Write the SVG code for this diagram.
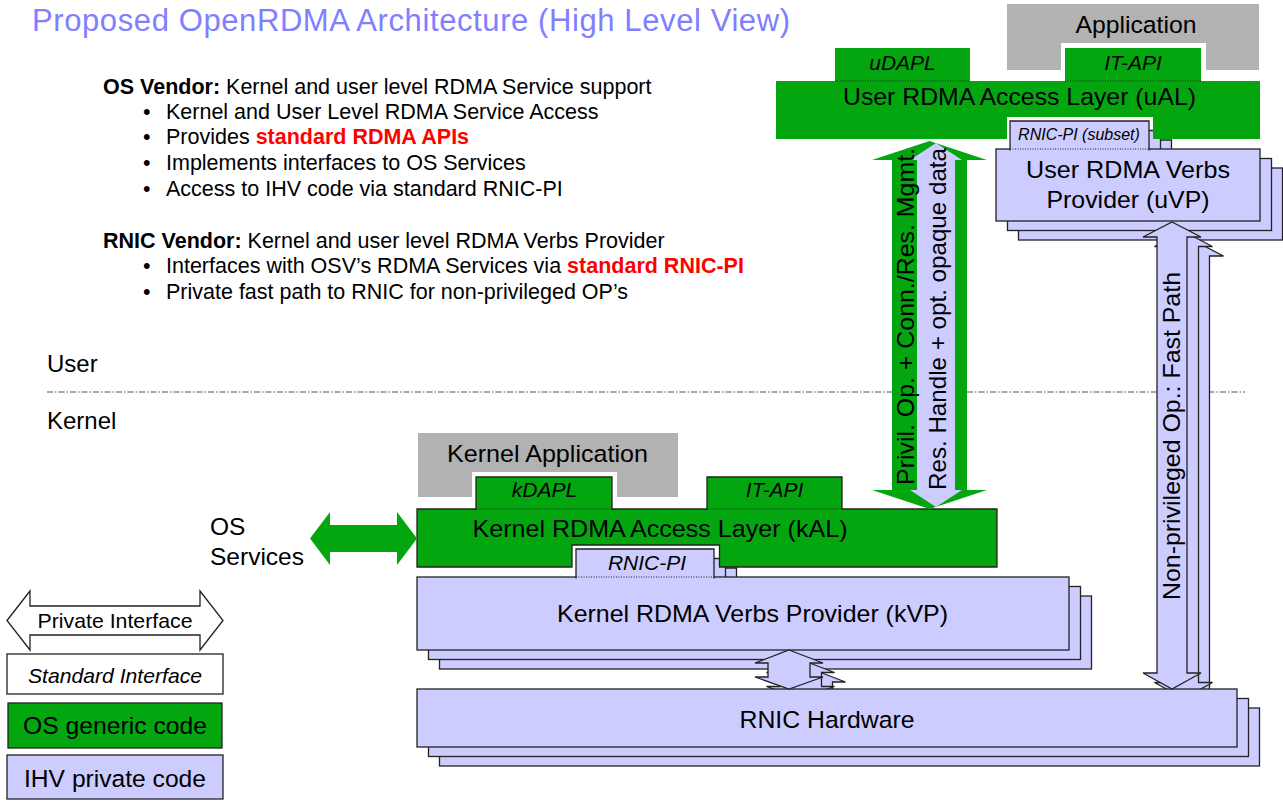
<svg xmlns="http://www.w3.org/2000/svg" width="1283" height="801" viewBox="0 0 1283 801">
<style>
text{font-family:"Liberation Sans",Arial,sans-serif;fill:#000}
.lbl{font-size:24.5px;text-anchor:middle}
.tab{font-size:21px;font-style:italic;text-anchor:middle}
.g{fill:#04a610}
.p{fill:#ccccff}
.gr{fill:#b2b2b2}
.w{fill:#ffffff}
.s{stroke:#222;stroke-width:1.3}
.dot{stroke:#222;stroke-width:1;stroke-dasharray:1 1.5;fill:none}
.b{font-weight:bold}
.red{fill:#ff0000;font-weight:bold}
</style>
<defs>
  <path id="uvpTab" d="M1010,150.5 V121 H1149 V150.5"/>
  <rect id="uvpBox" x="996" y="149" width="264" height="72"/>
  <path id="kvpTab" d="M576,578.5 V549 H714 V578.5"/>
  <rect id="kvpBox" x="417" y="577" width="652" height="73"/>
  <path id="smallArrow" d="M789,650 L823,663 L810,663 L810,677 L823,677 L789,689 L755,677 L768,677 L768,663 L755,663 Z"/>
  <rect id="rnicBox" x="417" y="689" width="820" height="58"/>
  <path id="fastArrow" d="M1172,222 L1201,237 L1187,237 L1187,673 L1201,673 L1172,689 L1143,673 L1157,673 L1157,237 L1143,237 Z"/>
</defs>

<g id="title">
  <text x="32" y="31" font-size="31" style="fill:#8080ff" textLength="758">Proposed OpenRDMA Architecture (High Level View)</text>
</g>

<g id="notes">
  <text x="103" y="94" font-size="21.5"><tspan class="b">OS Vendor:</tspan> Kernel and user level RDMA Service support</text>
  <text x="143" y="119" font-size="21.5">•</text><text x="166" y="119" font-size="21.5">Kernel and User Level RDMA Service Access</text>
  <text x="143" y="144" font-size="21.5">•</text><text x="166" y="144" font-size="21.5">Provides <tspan class="red">standard RDMA APIs</tspan></text>
  <text x="143" y="170" font-size="21.5">•</text><text x="166" y="170" font-size="21.5">Implements interfaces to OS Services</text>
  <text x="143" y="196" font-size="21.5">•</text><text x="166" y="196" font-size="21.5">Access to IHV code via standard RNIC-PI</text>
  <text x="103" y="248" font-size="21.5"><tspan class="b">RNIC Vendor:</tspan> Kernel and user level RDMA Verbs Provider</text>
  <text x="143" y="273" font-size="21.5">•</text><text x="166" y="273" font-size="21.5">Interfaces with OSV’s RDMA Services via <tspan class="red">standard RNIC-PI</tspan></text>
  <text x="143" y="299" font-size="21.5">•</text><text x="166" y="299" font-size="21.5">Private fast path to RNIC for non-privileged OP’s</text>
</g>

<g id="user-kernel-divider">
  <text x="47" y="372" font-size="24">User</text>
  <text x="47" y="429" font-size="24">Kernel</text>
  <path d="M47,392 H1245" stroke="#555" stroke-width="1.2" stroke-dasharray="6 2 1.5 2" fill="none"/>
</g>

<g id="application">
  <path class="gr" d="M1007,4 H1259 V70 H1206 V43 H1061 V70 H1007 Z"/>
  <text class="lbl" x="1136" y="33" textLength="121" lengthAdjust="spacingAndGlyphs">Application</text>
</g>

<g id="kernel-application">
  <path class="gr" d="M418,433 H678 V497 H617 V472 H472 V497 H418 Z"/>
  <text class="lbl" x="547.5" y="462" textLength="201" lengthAdjust="spacingAndGlyphs">Kernel Application</text>
</g>

<g id="stack-layer3" transform="translate(22.5,19)">
  <use href="#uvpTab" class="p s"/>
  <use href="#uvpBox" class="p s"/>
  <use href="#kvpTab" class="p s"/>
  <use href="#kvpBox" class="p s"/>
  <use href="#smallArrow" class="p s"/>
  <use href="#rnicBox" class="p s"/>
  <use href="#fastArrow" class="p s"/>
</g>
<g id="stack-layer2" transform="translate(11.5,9.5)">
  <use href="#uvpTab" class="p s"/>
  <use href="#uvpBox" class="p s"/>
  <use href="#kvpTab" class="p s"/>
  <use href="#kvpBox" class="p s"/>
  <use href="#smallArrow" class="p s"/>
  <use href="#rnicBox" class="p s"/>
  <use href="#fastArrow" class="p s"/>
</g>

<g id="uAL">
  <rect class="g" x="835" y="48" width="135" height="34"/>
  <rect class="g" x="1065" y="48" width="136" height="34"/>
  <path class="g" d="M776,81 H1260 V139 H1153 V117 H1007 V139 H776 Z"/>
  <path class="dot" d="M835,81 H970 M1065,81 H1201"/>
  <text class="tab" x="902.5" y="70">uDAPL</text>
  <text class="tab" x="1133" y="70">IT-API</text>
  <text class="lbl" x="1019.5" y="105" textLength="353" lengthAdjust="spacingAndGlyphs">User RDMA Access Layer (uAL)</text>
</g>

<g id="kAL">
  <path class="g s" d="M417,509 H997 V567 H719.5 V545 H572 V567 H417 Z"/>
  <path class="g s" d="M476,510 V477 H612 V510"/>
  <path class="g s" d="M707,510 V477 H842 V510"/>
  <path class="dot" d="M476,509 H612 M707,509 H842"/>
  <text class="tab" x="544.5" y="497">kDAPL</text>
  <text class="tab" x="774.5" y="497">IT-API</text>
  <text class="lbl" x="660" y="537" textLength="375" lengthAdjust="spacingAndGlyphs">Kernel RDMA Access Layer (kAL)</text>
</g>

<g id="uVP">
  <use href="#uvpBox" class="p s"/>
  <use href="#uvpTab" class="p s"/>
  <path class="dot" d="M1010,149 H1149"/>
  <text x="1079" y="140" font-size="16" font-style="italic" text-anchor="middle">RNIC-PI (subset)</text>
  <text class="lbl" x="1128" y="178" textLength="204" lengthAdjust="spacingAndGlyphs">User RDMA Verbs</text>
  <text class="lbl" x="1128" y="208" textLength="163" lengthAdjust="spacingAndGlyphs">Provider (uVP)</text>
</g>

<g id="kVP">
  <use href="#kvpBox" class="p s"/>
  <use href="#kvpTab" class="p s"/>
  <path class="dot" d="M576,577 H714"/>
  <text class="tab" x="647" y="570">RNIC-PI</text>
  <text class="lbl" x="752.5" y="622" textLength="391" lengthAdjust="spacingAndGlyphs">Kernel RDMA Verbs Provider (kVP)</text>
</g>

<g id="rnic-hardware">
  <use href="#rnicBox" class="p s"/>
  <text class="lbl" x="827" y="728" textLength="175" lengthAdjust="spacingAndGlyphs">RNIC Hardware</text>
</g>

<g id="os-services">
  <text x="210" y="535" font-size="24.5">OS</text>
  <text x="210" y="565" font-size="24.5" textLength="94" lengthAdjust="spacingAndGlyphs">Services</text>
</g>

<g id="connectors">
  <use href="#smallArrow" class="p s"/>
  <g id="fast-path">
    <use href="#fastArrow" class="p s"/>
    <text font-size="24.5" text-anchor="middle" transform="translate(1180,436) rotate(-90)" textLength="328" lengthAdjust="spacingAndGlyphs">Non-privileged Op.: Fast Path</text>
  </g>
  <g id="privileged-path">
    <path class="g" d="M929.5,141 L987,160 L967,160 L967,490 L987,490 L929.5,509 L872,490 L892,490 L892,160 L872,160 Z"/>
    <path class="p" d="M936,143 L962,160 L955,160 L955,490 L962,490 L936,507 L910,490 L917,490 L917,160 L910,160 Z"/>
    <text font-size="24.5" text-anchor="middle" transform="translate(914,316.5) rotate(-90)" textLength="337" lengthAdjust="spacingAndGlyphs">Privil. Op. + Conn./Res. Mgmt.</text>
    <text font-size="24.5" text-anchor="middle" transform="translate(946,319) rotate(-90)" textLength="342" lengthAdjust="spacingAndGlyphs">Res. Handle + opt. opaque data</text>
  </g>
  <path id="os-services-arrow" class="g" d="M310,538.5 L330,512 L330,525 L397,525 L397,512 L417,538.5 L397,565 L397,552 L330,552 L330,565 Z"/>
</g>

<g id="legend">
  <g id="legend-private">
    <path class="w s" d="M7,620.5 L30,591 L30,606 L200,606 L200,591 L223,620.5 L200,650 L200,635 L30,635 L30,650 Z"/>
    <text x="115" y="628" font-size="21" text-anchor="middle" textLength="155" lengthAdjust="spacingAndGlyphs">Private Interface</text>
  </g>
  <g id="legend-standard">
    <rect class="w s" x="7" y="654" width="216" height="40"/>
    <text x="115" y="683" font-size="21" font-style="italic" text-anchor="middle" textLength="174" lengthAdjust="spacingAndGlyphs">Standard Interface</text>
  </g>
  <g id="legend-os">
    <rect class="g s" x="8" y="703" width="214" height="45"/>
    <text x="115" y="734" font-size="24.5" text-anchor="middle" textLength="184" lengthAdjust="spacingAndGlyphs">OS generic code</text>
  </g>
  <g id="legend-ihv">
    <rect class="p s" x="7" y="755" width="216" height="44"/>
    <text x="115" y="787" font-size="24.5" text-anchor="middle" textLength="182" lengthAdjust="spacingAndGlyphs">IHV private code</text>
  </g>
</g>
</svg>
